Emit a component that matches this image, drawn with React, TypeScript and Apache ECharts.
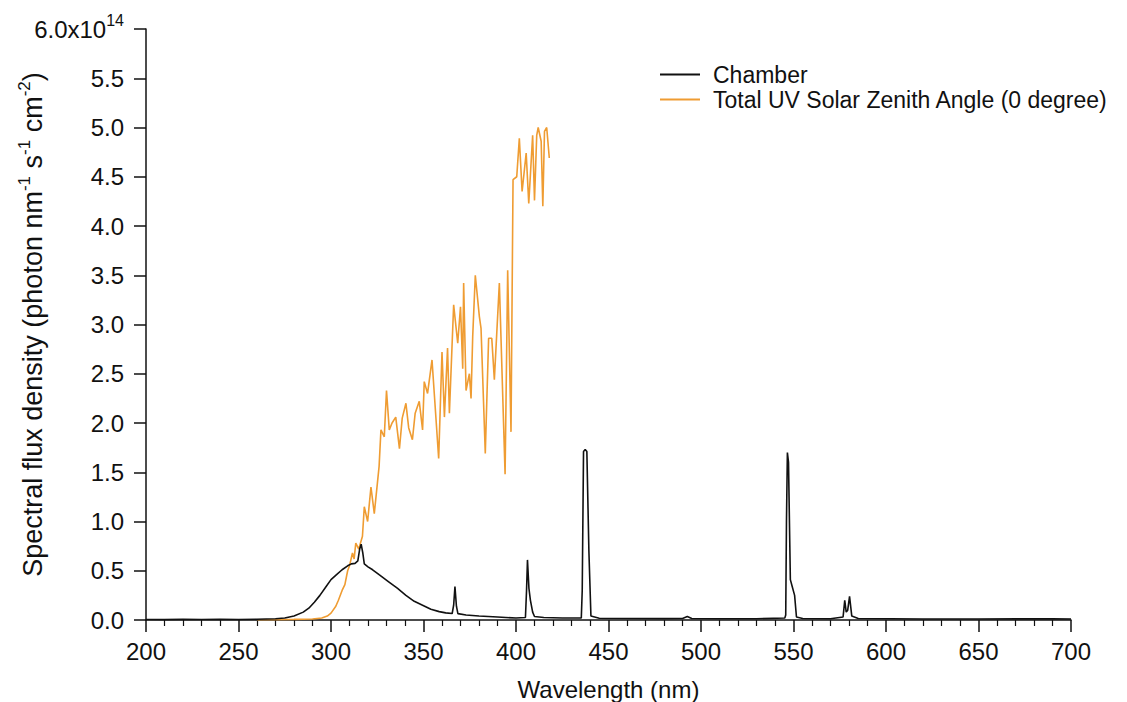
import React, { useEffect, useRef } from 'react';
import * as echarts from 'echarts';

// Values are in units of 10^14 photon nm^-1 s^-1 cm^-2
const chamberWavelength = [
  200, 210, 220, 230, 240, 250, 260, 270, 275, 280, 285, 288, 291, 294, 297, 300, 303, 306, 309, 311, 313,
  314.5, 315.5, 316.3, 317.2, 318, 320, 322.5, 326, 331, 336, 340.5, 345, 349.5, 354, 358.5, 362, 365.5,
  366.3, 367.0, 367.8, 368.6, 373, 380, 390, 400, 405.1, 405.7, 406.2, 407.0, 407.8, 409, 410, 415, 425,
  435.3, 435.8, 436.5, 437.4, 438.3, 439.4, 440.5, 445, 460, 480, 490, 492.6, 495, 510, 530, 545.3, 545.8,
  546.2, 546.7, 547.3, 548.3, 549.3, 550.6, 551.6, 555, 570, 576.8, 577.7, 578.5, 579.3, 580.3, 581.5, 585,
  620, 650, 690, 700,
];
const chamberFlux = [
  0.005, 0.004, 0.006, 0.005, 0.006, 0.005, 0.007, 0.012, 0.02, 0.04, 0.08, 0.12, 0.18, 0.25, 0.33, 0.41,
  0.46, 0.51, 0.55, 0.57, 0.575, 0.6, 0.72, 0.77, 0.68, 0.57, 0.54, 0.51, 0.46, 0.39, 0.32, 0.25, 0.19,
  0.15, 0.11, 0.085, 0.072, 0.066, 0.15, 0.34, 0.14, 0.065, 0.05, 0.04, 0.03, 0.02, 0.025, 0.3, 0.61,
  0.32, 0.2, 0.08, 0.035, 0.025, 0.02, 0.02, 0.3, 1.71, 1.73, 1.71, 0.7, 0.04, 0.018, 0.015, 0.014, 0.015,
  0.035, 0.015, 0.013, 0.013, 0.02, 0.05, 1.0, 1.7, 1.6, 0.41, 0.34, 0.25, 0.03, 0.015, 0.013, 0.03, 0.2,
  0.08, 0.1, 0.24, 0.04, 0.015, 0.01, 0.01, 0.012, 0.01,
];

const solarWavelength = [
  260, 270, 280, 290, 295, 298, 300, 302.6, 304, 306, 307.5, 309, 310, 311.6, 312.5, 313.4, 315, 317, 318,
  319.8, 321.6, 323.4, 326, 327, 328.8, 330, 331.5, 333, 335, 337, 338.5, 340.5, 342, 344, 345.5, 347.7,
  349.5, 350.4, 352.2, 354.6, 358.2, 360, 361.3, 363, 364, 366.3, 368.5, 370, 371.2, 371.7, 373, 374.8,
  375.7, 376.6, 378, 380.2, 381.1, 383.4, 385.2, 386.9, 388.3, 391, 394.1, 395.5, 397.3, 398.4, 400.4,
  401.8, 403.3, 405.5, 406.9, 409, 410, 411.2, 412, 413.6, 414.5, 415.4, 416.6, 418,
];
const solarFlux = [
  0.003, 0.004, 0.006, 0.01, 0.02, 0.04, 0.07, 0.14, 0.2, 0.3, 0.36, 0.5, 0.55, 0.68, 0.62, 0.78, 0.72,
  0.85, 1.15, 1.0, 1.35, 1.08, 1.56, 1.93, 1.86, 2.33, 1.93, 2.0, 2.06, 1.74, 2.05, 2.2, 1.95, 1.83, 2.1,
  2.22, 1.93, 2.42, 2.3, 2.64, 1.64, 2.72, 2.06, 2.76, 2.1, 3.2, 2.81, 3.18, 2.55, 3.42, 2.33, 2.5, 2.25,
  2.88, 3.5, 3.08, 2.96, 1.69, 2.86, 2.86, 2.44, 3.42, 1.48, 3.55, 1.91, 4.47, 4.5, 4.89, 4.35, 4.74,
  4.23, 4.92, 4.26, 4.92, 5.0, 4.86, 4.2, 4.96, 5.0, 4.69,
];

const seriesNames = ['Chamber', 'Total UV Solar Zenith Angle (0 degree)'];
const FONT = '"Liberation Sans", Arial, sans-serif';
const INK = '#111';

export default function App() {
  const ref = useRef<HTMLDivElement>(null);
  useEffect(() => {
    if (!ref.current) return;
    const chart = echarts.init(ref.current, undefined, { renderer: 'svg' });
    const chamber = chamberWavelength.map((w, i) => [w, chamberFlux[i]]);
    const solar = solarWavelength.map((w, i) => [w, solarFlux[i]]);
    chart.setOption({
      animation: false,
      backgroundColor: '#fff',
      textStyle: { fontFamily: FONT },
      grid: { left: 146, right: 56, top: 29, bottom: 82, containLabel: false, outerBoundsMode: 'none' },
      legend: {
        orient: 'vertical',
        left: 655,
        top: 58,
        icon: 'rect',
        itemWidth: 40,
        itemHeight: 2,
        itemGap: 2,
        data: seriesNames,
        textStyle: { fontSize: 23, color: INK, fontFamily: FONT, padding: [0, 0, 0, 8] },
      },
      xAxis: {
        type: 'value',
        min: 200,
        max: 700,
        interval: 50,
        name: 'Wavelength (nm)',
        nameLocation: 'middle',
        nameGap: 57,
        nameMoveOverlap: false,
        nameTextStyle: { fontSize: 24, color: INK, fontFamily: FONT },
        axisLine: { onZero: false, lineStyle: { color: INK, width: 1.5 } },
        axisTick: { inside: false, length: 12, lineStyle: { color: INK, width: 1.5 } },
        minorTick: { show: true, splitNumber: 5, length: 6, lineStyle: { color: INK, width: 1.2 } },
        axisLabel: { fontSize: 24, color: INK, margin: 19, fontFamily: FONT },
        splitLine: { show: false },
      },
      yAxis: {
        type: 'value',
        min: 0,
        max: 6,
        interval: 0.5,
        name: 'Spectral flux density (photon nm{sup|-1} s{sup|-1} cm{sup|-2})',
        nameLocation: 'middle',
        nameGap: 97,
        nameMoveOverlap: false,
        nameTextStyle: {
          fontSize: 27,
          color: INK,
          fontFamily: FONT,
          rich: { sup: { fontSize: 17, color: INK, fontFamily: FONT, padding: [0, 0, 16, 0] } },
        },
        axisLine: { show: true, lineStyle: { color: INK, width: 1.5 } },
        axisTick: { show: true, inside: false, length: 12, lineStyle: { color: INK, width: 1.5 } },
        axisLabel: {
          fontSize: 24,
          color: INK,
          margin: 22,
          fontFamily: FONT,
          formatter: (v: number) => (Math.abs(v - 6) < 1e-9 ? '6.0x10{sup|14}' : v.toFixed(1)),
          rich: { sup: { fontSize: 16, color: INK, fontFamily: FONT, padding: [0, 0, 18, 0] } },
        },
        splitLine: { show: false },
      },
      series: [
        {
          name: seriesNames[0],
          type: 'line',
          data: chamber,
          symbol: 'none',
          lineStyle: { color: INK, width: 1.6 },
          itemStyle: { color: INK },
          z: 3,
        },
        {
          name: seriesNames[1],
          type: 'line',
          data: solar,
          symbol: 'none',
          lineStyle: { color: '#EF9C32', width: 1.6 },
          itemStyle: { color: '#EF9C32' },
          z: 2,
        },
      ],
    });
    return () => chart.dispose();
  }, []);
  return <div ref={ref} style={{ position: 'fixed', left: 0, top: 0, width: 1127, height: 702 }} />;
}
